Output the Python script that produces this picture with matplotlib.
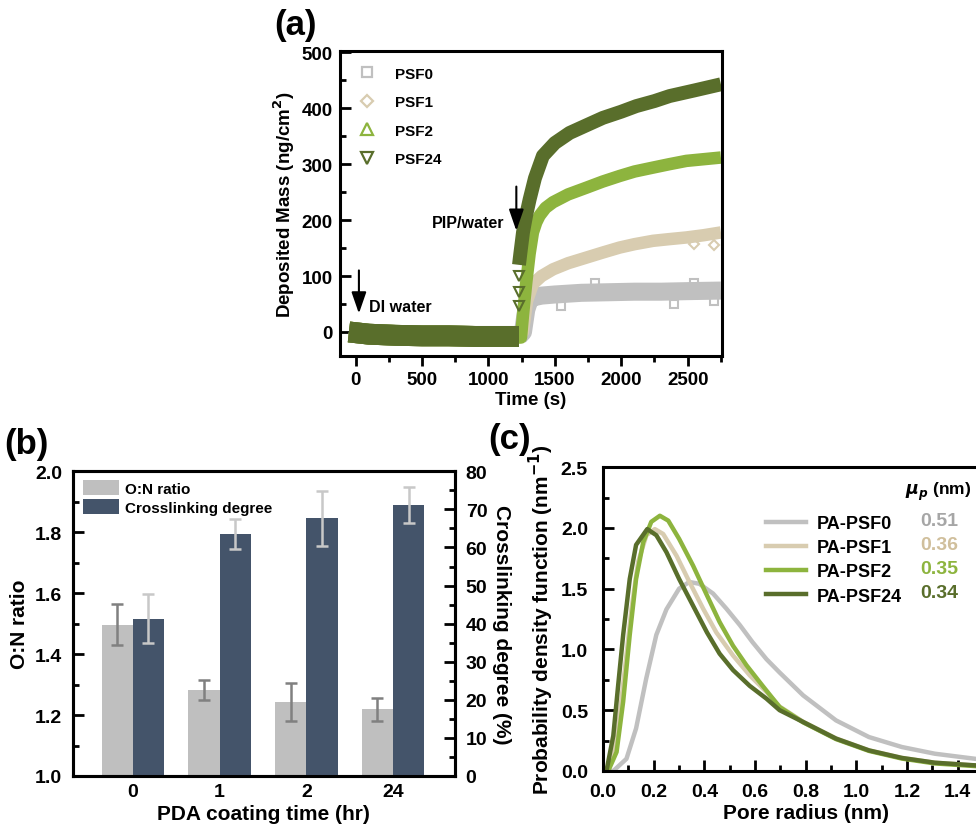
"""
QCM deposition, O:N ratio / crosslinking bars and pore size distributions
"""

# %% Imports

import matplotlib
matplotlib.use('Agg')
import matplotlib.pyplot as plt
from matplotlib.ticker import MultipleLocator
from matplotlib.lines import Line2D


# %% Data

# (a) deposited mass vs time
base_t = [-50, 100, 300, 500, 700, 900, 1100, 1230]
base_m = [0, -4, -6, -7, -7, -8, -8, -8]

psf0_t = [1230, 1260, 1285, 1310, 1340, 1400, 1500, 1700, 1900, 2100, 2300, 2500, 2750]
psf0_m = [-8, 0, 40, 58, 62, 65, 67, 70, 71, 72, 72, 73, 74]
psf1_t = [1230, 1260, 1290, 1335, 1400, 1486, 1600, 1737, 1860, 1988, 2100, 2239, 2360,
          2490, 2620, 2750]
psf1_m = [-8, 0, 55, 86, 100, 112, 123, 133, 142, 151, 157, 163, 166, 169, 173, 178]
psf2_t = [1230, 1245, 1260, 1285, 1310, 1335, 1360, 1385, 1430, 1486, 1600, 1737, 1860,
          1988, 2100, 2239, 2360, 2490, 2620, 2750]
psf2_m = [-10, -10, 30, 89, 140, 178, 196, 208, 222, 232, 246, 258, 269, 279, 287, 294,
          300, 306, 309, 312]
psf24_t = [1230, 1240, 1260, 1285, 1310, 1350, 1410, 1500, 1611, 1750, 1862, 2000, 2113,
           2250, 2364, 2550, 2750]
psf24_m = [120, 140, 178, 210, 237, 275, 315, 338, 356, 371, 383, 394, 404, 413, 422,
           432, 443]

# scattered markers
psf0_pts_t = [1550, 1800, 2400, 2550, 2700]
psf0_pts_m = [47, 88, 50, 88, 55]
psf1_pts_t = [2550, 2700]
psf1_pts_m = [158, 155]
psf24_pts_t = [1230, 1230, 1230]
psf24_pts_m = [100, 72, 47]

# (b) bars
coat_time = ['0', '1', '2', '24']
on_ratio = [1.497, 1.282, 1.244, 1.219]
on_err = [0.067, 0.032, 0.062, 0.038]
xlink = [41.3, 63.5, 67.7, 71.1]
xlink_err = [6.5, 3.9, 7.2, 4.7]

# (c) pore size PDFs
r0 = [0.0, 0.04, 0.092, 0.13, 0.17, 0.21, 0.25, 0.30, 0.34, 0.38, 0.434, 0.487, 0.54,
      0.59, 0.645, 0.697, 0.79, 0.92, 1.05, 1.18, 1.31, 1.47, 1.6]
p0 = [0.0, 0.0, 0.10, 0.35, 0.76, 1.12, 1.33, 1.50, 1.555, 1.54, 1.46, 1.335, 1.20,
      1.06, 0.92, 0.81, 0.622, 0.416, 0.279, 0.197, 0.142, 0.10, 0.08]
r1 = [0.0, 0.02, 0.059, 0.086, 0.112, 0.138, 0.171, 0.204, 0.237, 0.29, 0.342, 0.395,
      0.447, 0.513, 0.579, 0.645, 0.697, 0.79, 0.92, 1.05, 1.18, 1.31, 1.47, 1.6]
p1 = [0.0, 0.0, 0.35, 0.84, 1.335, 1.72, 1.94, 1.99, 1.95, 1.77, 1.55, 1.335, 1.14,
      0.95, 0.787, 0.65, 0.53, 0.405, 0.268, 0.17, 0.108, 0.068, 0.045, 0.03]
r2 = [0.0, 0.02, 0.053, 0.079, 0.105, 0.13, 0.158, 0.19, 0.224, 0.257, 0.30, 0.355,
      0.41, 0.46, 0.513, 0.566, 0.63, 0.697, 0.79, 0.92, 1.05, 1.18, 1.31, 1.47, 1.6]
p2 = [0.0, 0.0, 0.156, 0.57, 1.12, 1.58, 1.88, 2.05, 2.10, 2.06, 1.91, 1.69, 1.445,
      1.225, 1.03, 0.87, 0.70, 0.526, 0.40, 0.262, 0.165, 0.102, 0.062, 0.04, 0.026]
r24 = [0.0, 0.013, 0.04, 0.059, 0.079, 0.105, 0.13, 0.174, 0.21, 0.25, 0.30, 0.355,
       0.41, 0.46, 0.513, 0.579, 0.645, 0.697, 0.79, 0.92, 1.05, 1.18, 1.31, 1.47, 1.6]
p24 = [0.0, 0.0, 0.29, 0.70, 1.12, 1.58, 1.86, 1.99, 1.94, 1.80, 1.58, 1.36, 1.14,
       0.965, 0.83, 0.70, 0.595, 0.50, 0.403, 0.266, 0.169, 0.107, 0.068, 0.046, 0.032]
pore_ticks = [0.0, 0.2, 0.4, 0.6, 0.8, 1.0, 1.2, 1.4]
mu_p = ['0.51', '0.36', '0.35', '0.34']
names = ['PA-PSF0', 'PA-PSF1', 'PA-PSF2', 'PA-PSF24']


# %% Style

plt.rcParams['font.family'] = ['Liberation Sans', 'DejaVu Sans']
plt.rcParams['font.weight'] = 'bold'
plt.rcParams['axes.labelweight'] = 'bold'
plt.rcParams['axes.linewidth'] = 2.2
plt.rcParams['mathtext.default'] = 'bf'

c_gray = '#c0c0c0'
c_beige = '#d8ccb0'
c_green = '#8db43e'
c_dark = '#596e2b'
c_bar1 = '#bfbfbf'
c_bar2 = '#44546a'


def style_ticks(ax, size=14, direction='in'):
    ax.tick_params(which='major', direction=direction, length=8, width=2,
                   labelsize=size)
    ax.tick_params(which='minor', direction=direction, length=4.5, width=2)


arrow_kw = dict(arrowstyle='-|>,head_width=0.45,head_length=1.3',
                color='black', lw=1.5)

fig = plt.figure(figsize=(9.76, 8.37), dpi=100)


# %% (a) deposited mass

ax = fig.add_axes([0.348, 0.5735, 0.392, 0.364])
series = [(psf0_t, psf0_m, c_gray, 13), (psf1_t, psf1_m, c_beige, 9),
          (psf2_t, psf2_m, c_green, 9), (psf24_t, psf24_m, c_dark, 10)]
for t, m, c, lw in series:
    ax.plot(base_t, base_m, color=c, lw=15, solid_capstyle='butt')
    ax.plot(t, m, color=c, lw=lw, solid_capstyle='butt')
ax.plot(base_t, base_m, color=c_dark, lw=15, solid_capstyle='butt')
ax.plot(psf0_pts_t, psf0_pts_m, 's', mfc='none', mec=c_gray, ms=6, mew=1.5)
ax.plot(psf1_pts_t, psf1_pts_m, 'D', mfc='none', mec=c_beige, ms=5, mew=1.5)
ax.plot(psf24_pts_t, psf24_pts_m, 'v', mfc='none', mec=c_dark, ms=7, mew=1.5)

ax.set_xlim(-120, 2760)
ax.set_ylim(-43, 502)
ax.xaxis.set_major_locator(MultipleLocator(500))
ax.xaxis.set_minor_locator(MultipleLocator(250))
ax.yaxis.set_major_locator(MultipleLocator(100))
ax.yaxis.set_minor_locator(MultipleLocator(50))
style_ticks(ax, size=13.5)
ax.tick_params(axis='x', which='major', direction='out', length=7, pad=4)
ax.tick_params(axis='x', which='minor', direction='out', length=4)
ax.tick_params(axis='y', which='major', pad=5)
ax.set_xlabel('Time (s)', fontsize=13.5, labelpad=2)
ax.set_ylabel('Deposited Mass (ng/cm$^2$)', fontsize=13.5, labelpad=3)

ax.annotate('', xy=(25, 28), xytext=(25, 115), arrowprops=arrow_kw)
ax.text(100, 45, 'DI water', fontsize=11.5, fontweight='bold', va='center')
ax.annotate('', xy=(1210, 176), xytext=(1210, 265), arrowprops=arrow_kw)
ax.text(1122, 196, 'PIP/water', fontsize=11.5, fontweight='bold', va='center',
        ha='right')

leg_a = [Line2D([], [], ls='none', marker='s', mfc='none', mec=c_gray, ms=7, mew=1.6),
         Line2D([], [], ls='none', marker='D', mfc='none', mec=c_beige, ms=6.5, mew=1.6),
         Line2D([], [], ls='none', marker='^', mfc='none', mec=c_green, ms=8, mew=1.6),
         Line2D([], [], ls='none', marker='v', mfc='none', mec=c_dark, ms=8, mew=1.6)]
ax.legend(leg_a, ['PSF0', 'PSF1', 'PSF2', 'PSF24'], loc='upper left',
          bbox_to_anchor=(0.0, 0.99), frameon=False, fontsize=11,
          handletextpad=0.85, labelspacing=0.95, borderpad=0.3)


# %% (b) O:N ratio and crosslinking degree

axb = fig.add_axes([0.0748, 0.0717, 0.391, 0.364])
axb2 = axb.twinx()
xb = list(range(len(coat_time)))
w = 0.36
b1 = axb.bar([x - w / 2 for x in xb], on_ratio, w, yerr=on_err, color=c_bar1,
             capsize=4.5, error_kw=dict(ecolor='#808080', elinewidth=1.8,
                                        capthick=1.8), label='O:N ratio')
b2 = axb2.bar([x + w / 2 for x in xb], xlink, w, yerr=xlink_err, color=c_bar2,
              capsize=4.5, error_kw=dict(ecolor='#c8c8c8', elinewidth=1.8,
                                         capthick=1.8), label='Crosslinking degree')
axb.set_xlim(-0.69, 3.71)
axb.set_ylim(1.0, 2.0)
axb2.set_ylim(0, 80)
axb.set_xticks(xb)
axb.set_xticklabels(coat_time)
axb.yaxis.set_major_locator(MultipleLocator(0.2))
axb.yaxis.set_minor_locator(MultipleLocator(0.1))
axb2.yaxis.set_major_locator(MultipleLocator(10))
axb2.yaxis.set_minor_locator(MultipleLocator(5))
style_ticks(axb)
style_ticks(axb2)
axb.tick_params(axis='x', which='both', length=0, pad=5)
axb.tick_params(axis='y', which='major', pad=8)
axb2.tick_params(axis='y', which='major', pad=8)
for t in axb.get_yticklabels() + axb.get_xticklabels() + axb2.get_yticklabels():
    t.set_fontweight('bold')
axb.set_xlabel('PDA coating time (hr)', fontsize=15, labelpad=3)
axb.set_ylabel('O:N ratio', fontsize=15, labelpad=4)
axb2.set_ylabel('Crosslinking degree (%)', fontsize=15, rotation=270, labelpad=17)
axb2.legend(handles=[b1, b2], loc='upper left', bbox_to_anchor=(0.01, 0.99),
            frameon=False, fontsize=11, handlelength=2.35, handleheight=1.1,
            handletextpad=0.4, labelspacing=0.2, borderpad=0.2, borderaxespad=0.2)


# %% (c) pore size distribution

axc = fig.add_axes([0.618, 0.0777, 0.415, 0.363])
curves = [(r0, p0, c_gray), (r1, p1, c_beige), (r2, p2, c_green), (r24, p24, c_dark)]
for (r, p, c), n in zip(curves, names):
    axc.plot(r, p, color=c, lw=3.2, label=n, solid_joinstyle='round')
axc.set_xlim(0, 1.6)
axc.set_ylim(0, 2.5)
axc.set_xticks(pore_ticks)
axc.xaxis.set_minor_locator(MultipleLocator(0.1))
axc.yaxis.set_major_locator(MultipleLocator(0.5))
axc.yaxis.set_minor_locator(MultipleLocator(0.25))
style_ticks(axc)
axc.tick_params(axis='x', which='major', pad=9)
axc.tick_params(axis='y', which='major', pad=11)
axc.set_xlabel('Pore radius (nm)', fontsize=15, labelpad=2)
axc.set_ylabel('Probability density function (nm$^{-1}$)', fontsize=15, labelpad=3)
axc.legend(loc='upper left', bbox_to_anchor=(0.38, 0.872), frameon=False,
           fontsize=13, handlelength=2.2, handletextpad=0.6, labelspacing=0.4,
           borderpad=0.0)
axc.text(0.745, 0.922, r'$\mathbfit{\mu_p}$ (nm)', transform=axc.transAxes,
         fontsize=12.5, fontweight='bold', ha='left', va='center')
mu_colors = ['#a6a6a6', '#d0bf9c', c_green, c_dark]
for i, (v, c) in enumerate(zip(mu_p, mu_colors)):
    axc.text(0.782, 0.823 - i * 0.078, v, transform=axc.transAxes, fontsize=14,
             fontweight='bold', color=c, va='center')


# %% Panel labels

fig.text(0.281, 0.958, '(a)', fontsize=25, fontweight='bold')
fig.text(0.004, 0.458, '(b)', fontsize=25, fontweight='bold')
fig.text(0.500, 0.463, '(c)', fontsize=25, fontweight='bold')

fig.savefig('out.png', dpi=100)
